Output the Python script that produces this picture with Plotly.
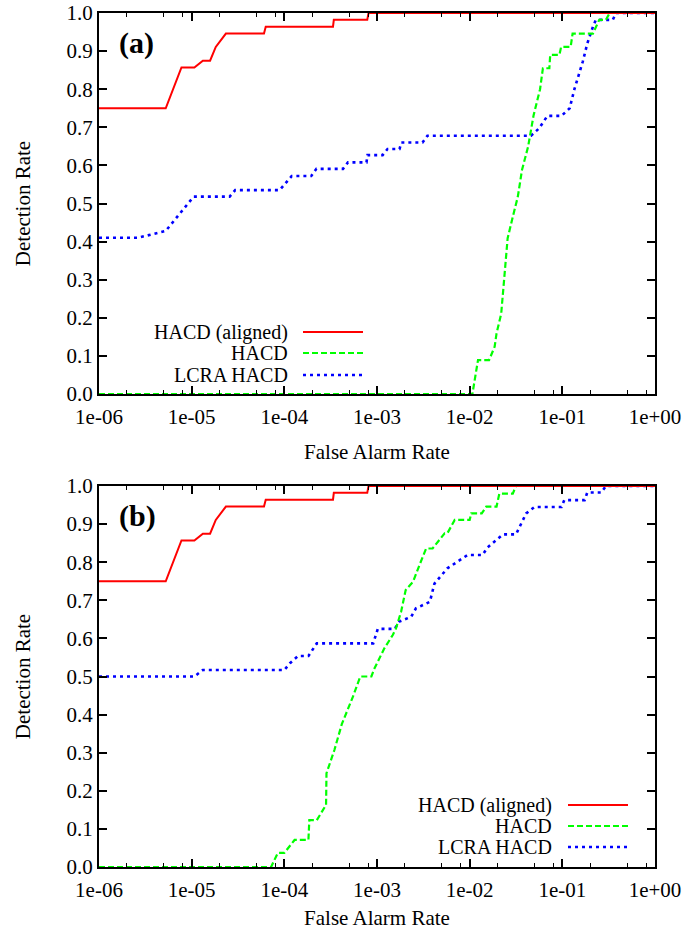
import plotly.graph_objects as go

# ---------------- data ----------------
far_aligned = [1e-6, 5.25e-6, 7.76e-6, 1.07e-5, 1.32e-5, 1.58e-5, 1.82e-5, 2.34e-5,
               6.03e-5, 6.3e-5, 3.35e-4, 3.42e-4, 7.85e-4, 8.1e-4, 1.0]
det_aligned = [0.75, 0.75, 0.857, 0.857, 0.875, 0.875, 0.911, 0.946,
               0.946, 0.964, 0.964, 0.982, 0.982, 1.0, 1.0]

# panel (a)
far_hacd_a = [1e-6, 1.07e-2, 1.23e-2, 1.62e-2, 1.86e-2, 1.95e-2, 2.19e-2, 2.37e-2, 2.57e-2,
              2.92e-2, 3.31e-2, 3.67e-2, 4.27e-2, 4.9e-2, 5.75e-2, 6.17e-2, 7.24e-2, 7.4e-2,
              9.3e-2, 9.7e-2, 0.123, 0.129, 0.214, 0.25, 0.295, 0.324, 1.0]
det_hacd_a = [0.0, 0.0, 0.089, 0.089, 0.124, 0.159, 0.211, 0.317, 0.409,
              0.465, 0.518, 0.588, 0.649, 0.732, 0.80, 0.855, 0.855, 0.89,
              0.89, 0.911, 0.911, 0.946, 0.946, 0.982, 0.982, 1.0, 1.0]

far_lcra_a = [1e-6, 2.63e-6, 5.25e-6, 1.05e-5, 2.57e-5, 2.95e-5, 8.9e-5, 1.2e-4, 1.95e-4,
              2.22e-4, 4.3e-4, 4.86e-4, 7.7e-4, 7.9e-4, 1.15e-3, 1.3e-3, 1.75e-3, 1.83e-3,
              3.1e-3, 3.5e-3, 4.6e-2, 5.6e-2, 6.9e-2, 9.8e-2, 0.12, 0.135, 0.166, 0.186,
              0.214, 0.23, 0.35, 0.38, 1.0]
det_lcra_a = [0.41, 0.41, 0.428, 0.518, 0.518, 0.535, 0.535, 0.572, 0.572,
              0.591, 0.591, 0.608, 0.608, 0.627, 0.627, 0.643, 0.643, 0.66,
              0.66, 0.678, 0.678, 0.697, 0.73, 0.73, 0.75, 0.80, 0.872, 0.92,
              0.964, 0.982, 0.982, 1.0, 1.0]

# panel (b)
far_hacd_b = [1e-6, 7.2e-5, 8.5e-5, 1.0e-4, 1.29e-4, 1.82e-4, 1.86e-4, 2.24e-4, 2.82e-4,
              2.85e-4, 3.47e-4, 4.17e-4, 5.5e-4, 6.6e-4, 8.7e-4, 9.3e-4, 1.2e-3, 1.48e-3,
              1.6e-3, 1.82e-3, 2.04e-3, 2.45e-3, 2.88e-3, 3.39e-3, 3.98e-3, 5.37e-3, 5.75e-3,
              6.9e-3, 1.0e-2, 1.04e-2, 1.35e-2, 1.51e-2, 1.95e-2, 2.09e-2, 2.92e-2, 3.16e-2, 1.0]
det_hacd_b = [0.0, 0.0, 0.037, 0.037, 0.071, 0.071, 0.123, 0.123, 0.163,
              0.246, 0.307, 0.375, 0.447, 0.50, 0.50, 0.519, 0.574, 0.609,
              0.626, 0.67, 0.727, 0.749, 0.793, 0.836, 0.836, 0.876, 0.876,
              0.911, 0.911, 0.928, 0.928, 0.946, 0.946, 0.98, 0.98, 1.0, 1.0]

far_lcra_b = [1e-6, 1.07e-5, 1.32e-5, 1.0e-4, 1.15e-4, 1.41e-4, 1.82e-4, 2.24e-4, 9.1e-4,
              1.02e-3, 1.55e-3, 1.74e-3, 2.34e-3, 2.63e-3, 3.72e-3, 4.17e-3, 5.75e-3, 9.5e-3,
              1.38e-2, 1.55e-2, 2.29e-2, 3.16e-2, 4.07e-2, 5.0e-2, 9.8e-2, 0.105, 0.174,
              0.186, 0.263, 0.295, 1.0]
det_lcra_b = [0.50, 0.50, 0.517, 0.517, 0.535, 0.554, 0.554, 0.587, 0.587,
              0.625, 0.625, 0.644, 0.657, 0.679, 0.696, 0.744, 0.784, 0.819,
              0.819, 0.838, 0.873, 0.873, 0.928, 0.945, 0.945, 0.963, 0.963,
              0.983, 0.983, 1.0, 1.0]

series_names = ["HACD (aligned)", "HACD", "LCRA HACD"]
panel_labels = ["(a)", "(b)"]
x_tick_vals = [1e-6, 1e-5, 1e-4, 1e-3, 1e-2, 1e-1, 1.0]
x_tick_text = ["1e-06", "1e-05", "1e-04", "1e-03", "1e-02", "1e-01", "1e+00"]
y_tick_vals = [i / 10 for i in range(11)]
y_tick_text = ["%.1f" % v for v in y_tick_vals]
minor_vals = [m * 10.0 ** e for e in range(-6, 0) for m in (2, 5, 8)]

# ---------------- styling ----------------
FONT = "Liberation Serif, Times New Roman, Times, serif"
FS = 21
LEG_FS = 20
RED, GREEN, BLUE = "#ff0000", "#00ff00", "#0000ff"
styles = [
    dict(color=RED, width=2, dash="solid"),
    dict(color=GREEN, width=2.2, dash="6px,3px"),
    dict(color=BLUE, width=2.6, dash="3px,4px"),
]

fig = go.Figure()
panels = [
    ("x", "y", [(far_aligned, det_aligned), (far_hacd_a, det_hacd_a), (far_lcra_a, det_lcra_a)]),
    ("x2", "y2", [(far_aligned, det_aligned), (far_hacd_b, det_hacd_b), (far_lcra_b, det_lcra_b)]),
]
for xa, ya, data in panels:
    for idx in (2, 1, 0):
        xs, ys = data[idx]
        fig.add_trace(go.Scatter(x=xs, y=ys, mode="lines", xaxis=xa, yaxis=ya,
                                 name=series_names[idx], line=styles[idx],
                                 showlegend=False, hoverinfo="skip"))

# plot area in pixels: left 99, right 655, panel a 13..394, panel b 486..867
W, H = 696, 930
L, R, T, B = 99, 41, 13, 63
ph = H - T - B  # 854
dom_b = [0, 381 / ph]
dom_a = [(ph - 381) / ph, 1]

def xaxis_cfg(anchor, standoff):
    return dict(type="log", range=[-6, 0], anchor=anchor,
                tickmode="array", tickvals=x_tick_vals, ticktext=x_tick_text,
                ticks="inside", ticklen=8, tickwidth=1.5, tickcolor="black",
                ticklabelstandoff=3,
                minor=dict(tickmode="array", tickvals=minor_vals, ticks="inside",
                           ticklen=4, tickwidth=1.2, tickcolor="black"),
                showline=True, linecolor="black", linewidth=2, mirror="ticks",
                showgrid=False, zeroline=False,
                tickfont=dict(family=FONT, size=FS, color="black"),
                title=dict(text="False Alarm Rate", standoff=standoff,
                           font=dict(family=FONT, size=FS, color="black")),
                automargin=False)

def yaxis_cfg(anchor, dom):
    return dict(range=[0, 1], domain=dom, anchor=anchor,
                tickmode="array", tickvals=y_tick_vals, ticktext=y_tick_text,
                ticks="inside", ticklen=8, tickwidth=1.5, tickcolor="black",
                showline=True, linecolor="black", linewidth=2, mirror="ticks",
                showgrid=False, zeroline=False,
                tickfont=dict(family=FONT, size=FS, color="black"),
                title=dict(text="Detection Rate", standoff=30,
                           font=dict(family=FONT, size=FS, color="black")),
                automargin=False)

fig.update_layout(
    width=W, height=H,
    margin=dict(l=L, r=R, t=T, b=B),
    paper_bgcolor="white", plot_bgcolor="white",
    showlegend=False,
    xaxis=xaxis_cfg("y", 16), yaxis=yaxis_cfg("x", dom_a),
    xaxis2=xaxis_cfg("y2", 9), yaxis2=yaxis_cfg("x2", dom_b),
)

# panel labels
for lab, yref in zip(panel_labels, ("y domain", "y2 domain")):
    xref = "x domain" if yref == "y domain" else "x2 domain"
    fig.add_annotation(text="<b>%s</b>" % lab, xref=xref, yref=yref,
                       x=0.033, y=0.922, xanchor="left", yanchor="middle",
                       showarrow=False, font=dict(family=FONT, size=30, color="black"))

# manual legends (text left of sample line, like gnuplot)
def px_x(px):
    return (px - L) / (W - L - R)

def px_y(py):
    return (H - B - py) / ph

legend_specs = [
    dict(text_right=290, line=(303, 363), rows=(332, 353, 375)),
    dict(text_right=554, line=(568, 628), rows=(805, 826, 847)),
]
for spec in legend_specs:
    for i, row in enumerate(spec["rows"]):
        fig.add_annotation(text=series_names[i], xref="paper", yref="paper",
                           x=px_x(spec["text_right"]), y=px_y(row),
                           xanchor="right", yanchor="middle", showarrow=False,
                           font=dict(family=FONT, size=LEG_FS, color="black"))
        st = styles[i]
        fig.add_shape(type="line", xref="paper", yref="paper",
                      x0=px_x(spec["line"][0]), x1=px_x(spec["line"][1]),
                      y0=px_y(row), y1=px_y(row),
                      line=dict(color=st["color"], width=st["width"], dash=st["dash"]))

# remove the default 8px page margin so the figure sits at the window's top-left corner
fig.write_html("out.html", config={"displayModeBar": False},
               post_script="document.body.style.margin='0';")
